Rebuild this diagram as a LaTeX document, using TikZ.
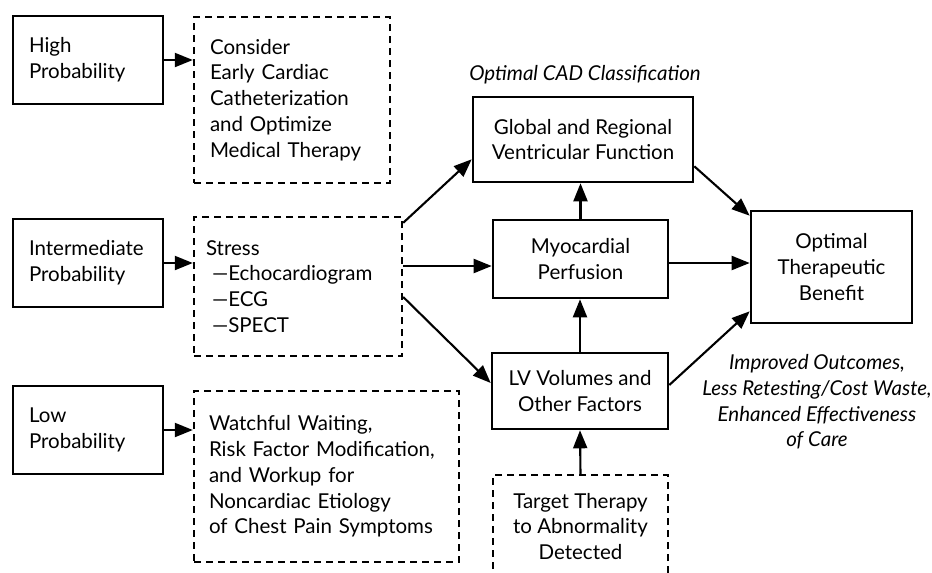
\documentclass[tikz,border=0pt]{standalone}
\usepackage{fontspec}
\setmainfont{Lato}
\usetikzlibrary{arrows.meta}
\hyphenpenalty=10000

\begin{document}
\begin{tikzpicture}[x=1pt, y=-1pt,
    box/.style={draw, line width=2.6pt, align=center, inner sep=0pt,
      font=\fontsize{20.5}{25.8}\selectfont},
    pbox/.style={box, align=left, text width=118, minimum width=150, minimum height=88},
    dbox/.style={draw, line width=2.4pt, dash pattern=on 7pt off 5pt,
      align=left, inner sep=0pt, font=\fontsize{20.5}{25.8}\selectfont},
    lbl/.style={font=\fontsize{20.5}{25.8}\selectfont\itshape, align=center},
    arr/.style={line width=2.1pt, -{Triangle[length=18pt, width=14pt]}}]
      \useasboundingbox (0,0) rectangle (932,573);
      \clip (0,0) rectangle (932,573);

      % left column
      \node[pbox] (high) at (88,60) {High\\Probability};
      \node[pbox] (inter) at (88,263) {Intermediate\\Probability};
      \node[pbox] (low) at (88,430) {Low\\Probability};

      % what to do next
      \node[dbox, minimum width=196, minimum height=166, text width=164] (consider) at (292,100)
        {Consider\\Early Cardiac\\Catheterization\\and Optimize\\Medical Therapy};
      \node[dbox, minimum width=208, minimum height=139, text width=184] (stress) at (298,286.5)
        {Stress\\\hspace*{6pt}---Echocardiogram\\\hspace*{6pt}---ECG\\\hspace*{6pt}---SPECT};
      \node[dbox, minimum width=265, minimum height=171, text width=235] (watch) at (326.5,476.5)
        {Watchful Waiting,\\Risk Factor Modification,\\and Workup for\\Noncardiac Etiology\\of Chest Pain Symptoms};

      % classification
      \node[box, minimum width=220, minimum height=85] (global) at (583,139.5) {Global and Regional\\Ventricular Function};
      \node[box, minimum width=175, minimum height=78] (perf) at (580.5,259) {Myocardial\\Perfusion};
      \node[box, minimum width=176, minimum height=76] (lv) at (580,391) {LV Volumes and\\Other Factors};
      \node[dbox, align=center, minimum width=175, minimum height=103] (target) at (580.5,526.5)
        {Target Therapy\\to Abnormality\\Detected};
      \node[box, minimum width=161, minimum height=112] (opt) at (831.5,267) {Optimal\\Therapeutic\\Benefit};

      \node[lbl, anchor=base] (cad) at (585,80) {Optimal CAD Classification};
      \node[lbl] (outc) at (817,402) {Improved Outcomes,\\Less Retesting/Cost Waste,\\Enhanced Effectiveness\\of Care};

      % arrows
      \draw[arr] (high.east) -- (high.east -| consider.west);
      \draw[arr] (inter.east) -- (inter.east -| stress.west);
      \draw[arr] (low.east) -- (low.east -| watch.west);
      \draw[arr] ([yshift=-7pt]stress.north east) -- ([yshift=24pt]global.south west);
      \draw[arr] ([yshift=-7pt]perf.west -| stress.east) -- ([yshift=-7pt]perf.west);
      \draw[arr] ([yshift=-10.5pt]stress.east) -- ([yshift=8pt]lv.west);
      \draw[arr] (perf.north) -- (perf.north |- global.south);
      \draw[arr] (lv.north) -- (lv.north |- perf.south);
      \draw[arr] (target.north) -- (lv.south);
      \draw[arr] ([yshift=17pt]global.south east) -- ([yshift=-6pt]opt.north west);
      \draw[arr] ([yshift=-4pt]perf.east) -- ([yshift=-4pt]perf.east -| opt.west);
      \draw[arr] ([yshift=6pt]lv.east) -- ([yshift=13pt]opt.south west);
    \end{tikzpicture}
\end{document}
